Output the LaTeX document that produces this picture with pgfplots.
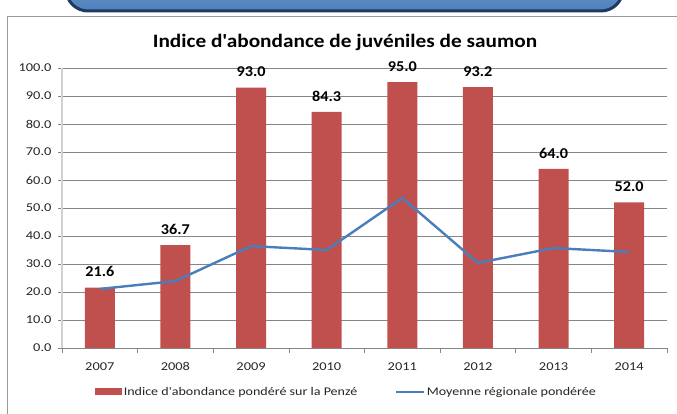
\documentclass[border=0pt]{standalone}
\usepackage{pgfplots}
\pgfplotsset{compat=1.18}
\usepackage{fontspec}
\setmainfont{Carlito}
\newfontfamily\widefont[FakeStretch=1.2]{Carlito}
\newfontfamily\titlefont[FakeStretch=1.12]{Carlito}
\newfontfamily\labelfont[FakeStretch=1.08]{Carlito}
\definecolor{barred}{HTML}{C0504D}
\definecolor{lineblue}{HTML}{4A7EBB}
\definecolor{gridgray}{HTML}{868686}
\definecolor{boxblue}{HTML}{4F81BD}
\definecolor{boxdark}{HTML}{1F3A60}
\begin{document}
\begin{tikzpicture}
\useasboundingbox (0pt,0pt) rectangle (677pt,413pt);
\begin{scope}
\clip (0pt,0pt) rectangle (677pt,413pt);
\draw[gray!80, line width=1pt] (7pt,-10pt) -- (7pt,396pt) -- (690pt,396pt);
\draw[boxdark, line width=3pt, top color=boxblue!70!white, bottom color=boxblue, rounded corners=22pt] (66pt,402pt) rectangle (623pt,460pt);
\end{scope}
\node[font=\titlefont\fontsize{19}{21}\selectfont\bfseries] at (345pt,371pt) {Indice d'abondance de juvéniles de saumon};
\begin{axis}[
  at={(62pt,65pt)}, anchor=south west, scale only axis,
  width=605pt, height=280pt,
  xmin=-0.5, xmax=7.5, ymin=0, ymax=100,
  xtick={0,...,7},
  xticklabels={2007,2008,2009,2010,2011,2012,2013,2014},
  minor xtick={-0.5,0.5,...,7.5},
  major x tick style={draw=none},
  minor x tick style={gridgray, line width=0.6pt},
  ytick={0,10,...,100},
  ymajorgrids, major grid style={gridgray, line width=0.8pt},
  tick align=outside, tick pos=left,
  major tick length=4pt, minor tick length=5pt,
  y tick style={gridgray, line width=0.8pt},
  axis x line*=bottom, axis y line*=left,
  x axis line style={gridgray, line width=0.8pt, -},
  y axis line style={black!18, line width=1.8pt, -},
  /pgf/number format/assume math mode=true,
  yticklabel style={xshift=-3pt, /pgf/number format/.cd, fixed, fixed zerofill, precision=1},
  ticklabel style={font=\widefont\fontsize{12}{13}\selectfont, text=black!85},
  xticklabel style={yshift=-7pt},
  legend style={at={(0.47,-0.157)}, anchor=center, draw=none, legend columns=2,
    font=\widefont\fontsize{11.7}{13}\selectfont, text=black!85,
    /tikz/every even column/.append style={column sep=36pt}},
]
\addplot[ybar, bar width=30pt, fill=barred, draw=none,
  nodes near coords, point meta=explicit symbolic,
  every node near coord/.append style={font=\labelfont\fontsize{15}{16}\selectfont\bfseries, anchor=south, yshift=7pt, text=black},
  area legend, legend image code/.code={\fill[barred] (0pt,-3.5pt) rectangle (27pt,3.5pt);}]
  coordinates {(0,21.6)[21.6] (1,36.7)[36.7] (2,93.0)[93.0] (3,84.3)[84.3] (4,95.0)[95.0] (5,93.2)[93.2] (6,64.0)[64.0] (7,52.0)[52.0]};
\addlegendentry{Indice d'abondance pondéré sur la Penzé}
\addplot[lineblue, line width=2.4pt, mark=none,
  legend image code/.code={\draw[lineblue, line width=1.5pt] (0pt,0pt) -- (28pt,0pt);}]
  coordinates {(0,21.1) (1,23.9) (2,36.4) (3,35.0) (4,53.6) (5,30.4) (6,35.7) (7,34.3)};
\addlegendentry{Moyenne régionale pondérée}
\end{axis}
\end{tikzpicture}
\end{document}
